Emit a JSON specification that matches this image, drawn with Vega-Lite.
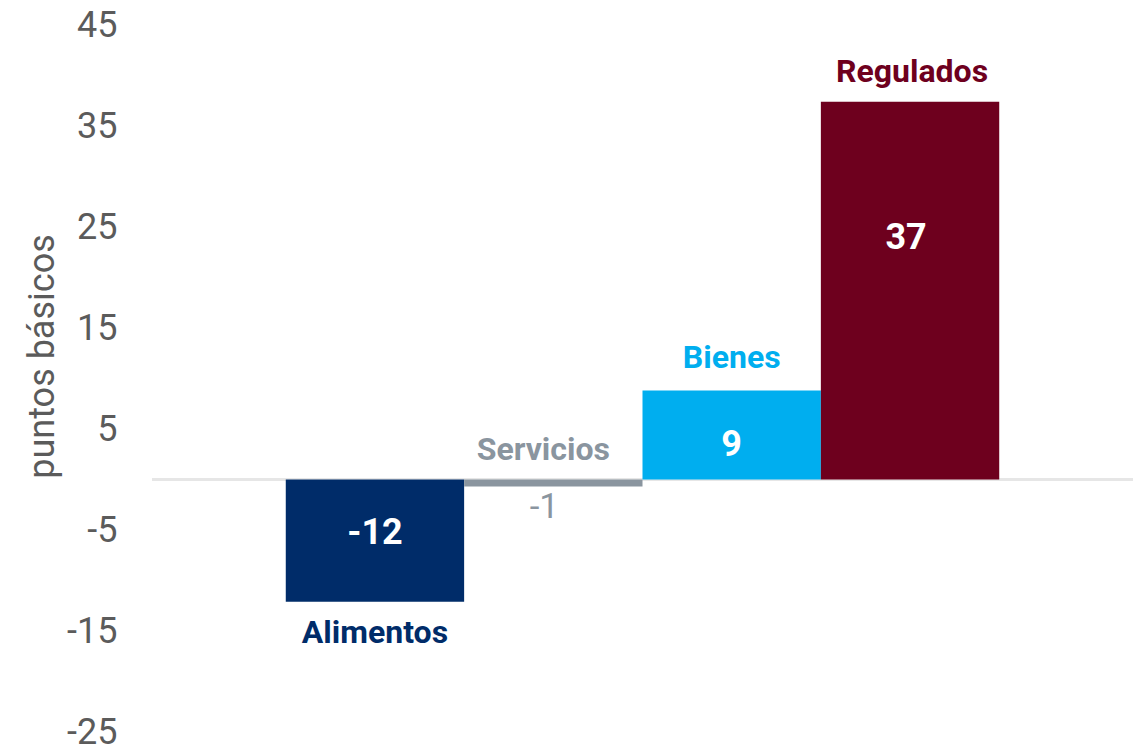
{
  "$schema": "https://vega.github.io/schema/vega-lite/v6.json",
  "autosize": {"type": "none"},
  "width": 981,
  "height": 707,
  "padding": {"left": 152, "top": 25, "right": 9, "bottom": 16},
  "background": "white",
  "config": {
    "view": {"stroke": null},
    "font": "Roboto",
    "locale": {"number": {"decimal": ".", "thousands": ",", "grouping": [3], "currency": ["$", ""], "minus": "-"}}
  },
  "data": {
    "values": [
      {"cat": "Alimentos", "value": -12.1},
      {"cat": "Servicios", "value": -0.7},
      {"cat": "Bienes", "value": 8.8},
      {"cat": "Regulados", "value": 37.4}
    ]
  },
  "encoding": {
    "x": {
      "field": "cat",
      "type": "nominal",
      "sort": ["Alimentos", "Servicios", "Bienes", "Regulados"],
      "scale": {"paddingInner": 0, "paddingOuter": 0.75},
      "axis": null
    }
  },
  "layer": [
    {
      "mark": {"type": "rule", "color": "#e6e6e6", "strokeWidth": 2.5},
      "encoding": {"x": null, "y": {"datum": 0, "type": "quantitative"}}
    },
    {
      "mark": {"type": "bar"},
      "encoding": {
        "y": {
          "field": "value",
          "type": "quantitative",
          "scale": {"domain": [-25, 45], "nice": false, "zero": false},
          "axis": {
            "values": [-25, -15, -5, 5, 15, 25, 35, 45],
            "format": "d",
            "grid": false,
            "domain": false,
            "ticks": false,
            "labelFontSize": 36,
            "labelColor": "#5b5b5b",
            "labelPadding": 35,
            "labelFont": "Roboto",
            "title": "puntos básicos",
            "titleFont": "Roboto",
            "titleFontSize": 36,
            "titleFontWeight": "normal",
            "titleColor": "#5b5b5b",
            "titleX": -110,
            "titleY": 331,
            "titleAlign": "center",
            "titleBaseline": "middle",
            "titleAngle": -90
          }
        },
        "color": {
          "field": "cat",
          "type": "nominal",
          "scale": {
            "domain": ["Alimentos", "Servicios", "Bienes", "Regulados"],
            "range": ["#002C69", "#8A959F", "#00AEEF", "#6E001E"]
          },
          "legend": null
        }
      }
    },
    {
      "transform": [{"filter": "datum.cat === 'Regulados'"}],
      "mark": {"type": "text", "fontSize": 32, "fontWeight": "bold", "baseline": "middle", "dy": -30, "dx": 2},
      "encoding": {
        "y": {"field": "value", "type": "quantitative"},
        "text": {"field": "cat"},
        "color": {"field": "cat", "type": "nominal", "legend": null}
      }
    },
    {
      "transform": [{"filter": "datum.cat === 'Bienes'"}],
      "mark": {"type": "text", "fontSize": 32, "fontWeight": "bold", "baseline": "middle", "dy": -33},
      "encoding": {
        "y": {"field": "value", "type": "quantitative"},
        "text": {"field": "cat"},
        "color": {"field": "cat", "type": "nominal", "legend": null}
      }
    },
    {
      "transform": [{"filter": "datum.cat === 'Servicios'"}],
      "mark": {"type": "text", "fontSize": 32, "fontWeight": "bold", "baseline": "middle", "dy": -30, "dx": -10},
      "encoding": {
        "y": {"datum": 0, "type": "quantitative"},
        "text": {"field": "cat"},
        "color": {"field": "cat", "type": "nominal", "legend": null}
      }
    },
    {
      "transform": [{"filter": "datum.cat === 'Alimentos'"}],
      "mark": {"type": "text", "fontSize": 32, "fontWeight": "bold", "baseline": "middle", "dy": 31},
      "encoding": {
        "y": {"field": "value", "type": "quantitative"},
        "text": {"field": "cat"},
        "color": {"field": "cat", "type": "nominal", "legend": null}
      }
    },
    {
      "transform": [{"filter": "datum.cat === 'Regulados'"}],
      "mark": {"type": "text", "fontSize": 36, "fontWeight": "bold", "baseline": "middle", "color": "white", "dy": 136, "dx": -4},
      "encoding": {
        "y": {"field": "value", "type": "quantitative"},
        "text": {"field": "value", "type": "quantitative", "format": ".0f"}
      }
    },
    {
      "transform": [{"filter": "datum.cat === 'Bienes'"}],
      "mark": {"type": "text", "fontSize": 36, "fontWeight": "bold", "baseline": "middle", "color": "white", "dy": 54},
      "encoding": {
        "y": {"field": "value", "type": "quantitative"},
        "text": {"field": "value", "type": "quantitative", "format": ".0f"}
      }
    },
    {
      "transform": [{"filter": "datum.cat === 'Alimentos'"}],
      "mark": {"type": "text", "fontSize": 36, "fontWeight": "bold", "baseline": "middle", "color": "white", "dy": -69},
      "encoding": {
        "y": {"field": "value", "type": "quantitative"},
        "text": {"field": "value", "type": "quantitative", "format": ".0f"}
      }
    },
    {
      "transform": [{"filter": "datum.cat === 'Servicios'"}],
      "mark": {"type": "text", "fontSize": 35, "fontWeight": "normal", "baseline": "middle", "color": "#8A959F", "dy": 20, "dx": -9},
      "encoding": {
        "y": {"field": "value", "type": "quantitative"},
        "text": {"field": "value", "type": "quantitative", "format": ".0f"}
      }
    }
  ]
}
